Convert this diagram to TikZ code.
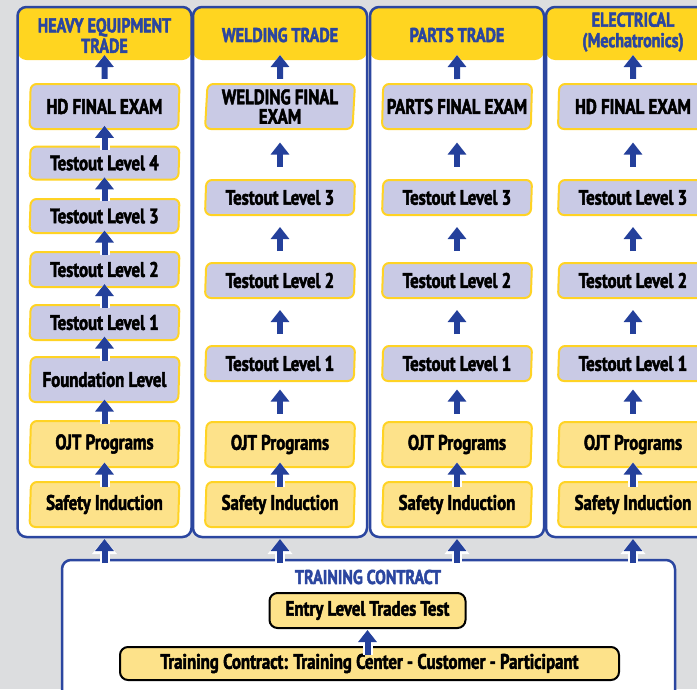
\documentclass[tikz,border=0pt]{standalone}
\usepackage{fontspec}
\newfontfamily\cf{PT Sans Bold}[FakeStretch=0.8, FakeBold=2.2]
\usetikzlibrary{shapes.geometric,arrows.meta,calc}
\definecolor{bgray}{HTML}{DCDDDF}
\definecolor{cblue}{HTML}{2B46A0}
\definecolor{ablue}{HTML}{24409B}
\definecolor{hyel}{HTML}{FFD520}
\definecolor{lav}{HTML}{C9CAE5}
\definecolor{lyel}{HTML}{FDE28A}
\definecolor{byel}{HTML}{FFD324}
\tikzset{
  colbox/.style={draw=cblue, line width=2.5pt, fill=white, rounded corners=9pt,
    minimum width=174pt, minimum height=530pt, inner sep=0pt, outer sep=0pt,
    path picture={\fill[hyel] (path picture bounding box.north west) rectangle ([yshift=-53pt]path picture bounding box.north east);}},
  box/.style={trapezium, trapezium left angle=86, trapezium right angle=94,
    trapezium stretches body, rounded corners=6pt, draw=byel, line width=2pt,
    minimum width=150pt, inner sep=1pt, outer sep=0pt,
    font=\cf\fontsize{21}{19.5}\selectfont, text=black, align=center},
  lavbox/.style={box, fill=lav},
  yelbox/.style={box, fill=lyel},
  hdr/.style={font=\cf\fontsize{20}{20.5}\selectfont, text=cblue, align=center, inner sep=0pt},
  arr/.style={ablue, line width=6pt, -{Triangle[width=18pt,length=12pt]},
    preaction={draw=white, line width=10pt, -{Triangle[width=24pt,length=15pt]}}},
  blk/.style={draw=black, line width=2pt, fill=lyel, rounded corners=8pt, inner sep=0pt, outer sep=0pt,
    font=\cf\fontsize{21}{19}\selectfont}
}
\newcommand\gaparr[2]{%
  \path (#1.north) -- (#2.south) coordinate[pos=0.5] (gm);
  \draw[arr] ($(gm)+(0,12)$) -- ($(gm)+(0,-12)$);}
\begin{document}
\begin{tikzpicture}[x=1pt,y=-1pt]
\useasboundingbox (0,0) rectangle (697,689);
\clip (0,0) rectangle (697,689);
\fill[bgray] (0,0) rectangle (697,689);
% columns
\node[colbox] (c1) at (104.5,272) {};
\node[colbox] (c2) at (280,272) {};
\node[colbox] (c3) at (457,272) {};
\node[colbox] (c4) at (633,272) {};
% training contract box
\node[draw=cblue, line width=2.5pt, fill=white, rounded corners=9pt, minimum width=613pt,
  minimum height=150pt, anchor=north, outer sep=0pt] (tcb) at (368.5,560) {};
% headers
\node[hdr] (h1) at (104.5,35.5) {HEAVY EQUIPMENT\\TRADE};
\node[hdr] (h2) at (280,35) {WELDING TRADE};
\node[hdr] (h3) at (457,35) {PARTS TRADE};
\node[hdr] (h4) at (633,32) {ELECTRICAL\\(Mechatronics)};
\coordinate (ha1) at (104.5,55);
\coordinate (ha2) at (280,55);
\coordinate (ha3) at (457,55);
\coordinate (ha4) at (633,55);
% column 1
\node[lavbox, minimum height=45pt] (f1) at (104.5,106.5) {HD FINAL EXAM};
\node[lavbox, minimum height=33pt] (a4) at (104.5,163) {Testout Level 4};
\node[lavbox, minimum height=34pt] (a3) at (104.5,216) {Testout Level 3};
\node[lavbox, minimum height=35pt] (a2) at (104.5,269.5) {Testout Level 2};
\node[lavbox, minimum height=35pt] (a1) at (104.5,322.5) {Testout Level 1};
\node[lavbox, minimum height=45pt] (fd) at (104.5,379.5) {Foundation Level};
\node[yelbox, minimum height=46pt] (o1) at (104.5,444) {OJT Programs};
\node[yelbox, minimum height=45pt] (s1) at (104.5,504.5) {Safety Induction};
\draw[arr] ($(f1.north)+(0,-5)$) -- (ha1);
\gaparr{a4}{f1}
\gaparr{a3}{a4}
\gaparr{a2}{a3}
\gaparr{a1}{a2}
\gaparr{fd}{a1}
\gaparr{o1}{fd}
\gaparr{s1}{o1}
% columns 2-4
\foreach \i/\x/\fin in {2/280/{WELDING FINAL\\EXAM}, 3/457/{PARTS FINAL EXAM}, 4/633/{HD FINAL EXAM}} {
  \node[lavbox, minimum height=45pt] (f\i) at (\x,106.5) {\fin};
  \node[lavbox, minimum height=35pt] (u\i) at (\x,197.5) {Testout Level 3};
  \node[lavbox, minimum height=35pt] (v\i) at (\x,280.5) {Testout Level 2};
  \node[lavbox, minimum height=35pt] (w\i) at (\x,363.5) {Testout Level 1};
  \node[yelbox, minimum height=45pt] (o\i) at (\x,444.5) {OJT Programs};
  \node[yelbox, minimum height=45pt] (s\i) at (\x,504.5) {Safety Induction};
  \draw[arr] ($(f\i.north)+(0,-5)$) -- (ha\i);
  \gaparr{u\i}{f\i}
  \gaparr{v\i}{u\i}
  \gaparr{w\i}{v\i}
  \gaparr{o\i}{w\i}
  \gaparr{s\i}{o\i}
}
% arrows from training contract to columns
\foreach \i in {1,2,3,4} {
  \draw[arr] ($(tcb.north -| c\i.south)+(0,3)$) -- ($(c\i.south)+(0,2)$);
}
% training contract contents
\node[hdr] (tct) at (368,577) {TRAINING CONTRACT};
\node[blk, minimum width=196pt, minimum height=35pt] (ent) at (367.5,610.5) {Entry Level Trades Test};
\node[blk, minimum width=499pt, minimum height=33pt] (tcp) at (369.5,663.5) {Training Contract: Training Center - Customer - Participant};
\draw[arr] ($(ent.south |- tcp.north)+(0,8)$) -- ($(ent.south)+(0,2)$);
\end{tikzpicture}
\end{document}
